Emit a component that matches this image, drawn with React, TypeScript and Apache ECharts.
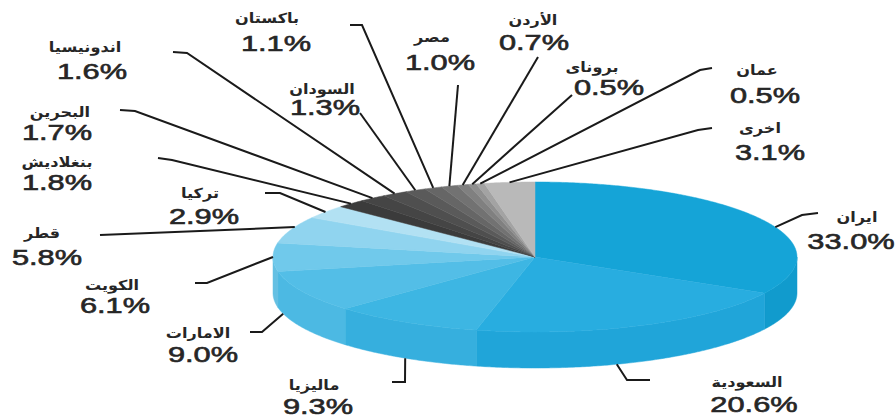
import React, { useEffect, useRef } from 'react';
import * as echarts from 'echarts';

// ---- data ----
const COUNTRIES = ['ايران', 'السعودية', 'ماليزيا', 'الامارات', 'الكويت', 'قطر', 'تركيا', 'بنغلاديش', 'البحرين', 'اندونيسيا', 'السودان', 'باكستان', 'مصر', 'الأردن', 'بروناى', 'عمان', 'اخرى'];
const SHARES = [33.0, 20.6, 9.3, 9.0, 6.1, 5.8, 2.9, 1.8, 1.7, 1.6, 1.3, 1.1, 1.0, 0.7, 0.5, 0.5, 3.1];

// ---- styles ----
const TOP_COLORS = ['#15a4d7', '#28ade0', '#3db6e3', '#53bee7', '#70c9eb', '#90d4ef', '#b2e1f3', '#3b3b3b', '#454545', '#4f4f4f', '#5a5a5a', '#666666', '#727272', '#808080', '#8f8f8f', '#a3a3a3', '#b9b9b9'];
const SIDE_COLORS = ['#119bcd', '#20a5d9', '#36afde', '#4cb9e3', '#64c0e3', '#84cde9', '#a5d9ee', '#333', '#333', '#333', '#333', '#333', '#333', '#333', '#333', '#333', '#333'];

// ---- layout (label name centre, pct centre, leader line start/elbow, attach fraction along slice) ----
const LABEL_NAME_POS = [[857, 217], [747, 382], [314, 385], [198, 333], [112, 285], [42, 233], [200, 193], [57, 162], [60, 112], [85, 47], [322, 89], [267, 18], [432, 37], [533, 20], [592, 67], [757, 70], [760, 128]];
const LABEL_PCT_POS = [[851, 242], [754, 405], [318, 407], [203, 355], [115, 306], [47, 258], [204, 217], [57, 183], [57, 133], [92, 72], [325, 108], [276, 44], [440, 63], [534, 43], [609, 88], [765, 96], [770, 153]];
const LEADER_START = [
  [[818, 213], [802, 215]],
  [[650, 380], [627, 380]],
  [[392, 382], [405, 382]],
  [[250, 332], [262, 332]],
  [[195, 283], [207, 283]],
  [[100, 235]],
  [[265, 193], [280, 193]],
  [[158, 158], [172, 160]],
  [[120, 110], [135, 111]],
  [[173, 52], [187, 53]],
  [[360, 113]],
  [[350, 25], [362, 25]],
  [[458, 85]],
  [[538, 57]],
  [[572, 95]],
  [[712, 68], [700, 70]],
  [[712, 128], [698, 130]],
];
const ATTACH = [0.56, 0.58, 0.5, 0.85, 0.51, 0.61, 0.5, 0.5, 0.5, 0.5, 0.5, 0.5, 0.5, 0.5, 0.5, 0.5, 0.5];

const CX = 535, CY = 257, RX = 262, RY = 75, H = 36;

export default function App() {
  const ref = useRef<HTMLDivElement>(null);
  useEffect(() => {
    if (!ref.current) return;
    const chart = echarts.init(ref.current, undefined, { renderer: 'svg' });
    const total = SHARES.reduce((a, b) => a + b, 0);
    const starts: number[] = [];
    let acc = 0;
    for (const v of SHARES) { starts.push(acc); acc += v; }
    const data = SHARES.map((v, i) => [v, starts[i], i]);
    const toAng = (v: number) => (v / total) * Math.PI * 2;
    const pt = (t: number, dy = 0) => [CX + RX * Math.sin(t), CY - RY * Math.cos(t) + dy];
    const arc = (a: number, b: number, dy: number) => {
      const n = Math.max(2, Math.ceil((b - a) / (Math.PI / 360)));
      const out: number[][] = [];
      for (let k = 0; k <= n; k++) out.push(pt(a + ((b - a) * k) / n, dy));
      return out;
    };
    const sideItem = (params: any, api: any) => {
      const i = api.value(2);
      const a0 = toAng(api.value(1));
      const a1 = a0 + toAng(api.value(0));
      const s = Math.max(a0, Math.PI / 2);
      const e = Math.min(a1, Math.PI * 1.5);
      if (s >= e) return { type: 'group', children: [] };
      const pts = arc(s, e, 0).concat(arc(s, e, H).reverse());
      return {
        type: 'polygon',
        shape: { points: pts },
        style: { fill: SIDE_COLORS[i], stroke: SIDE_COLORS[i], lineWidth: 0.5 },
      };
    };
    const topItem = (params: any, api: any) => {
      const i = api.value(2);
      const a0 = toAng(api.value(1));
      const a1 = a0 + toAng(api.value(0));
      const pts = [[CX, CY]].concat(arc(a0, a1, 0));
      return {
        type: 'polygon',
        shape: { points: pts },
        style: { fill: TOP_COLORS[i], stroke: TOP_COLORS[i], lineWidth: 0.5 },
      };
    };
    const labelItem = (params: any, api: any) => {
      const i = api.value(2);
      const v = api.value(0);
      const a0 = toAng(api.value(1));
      const a1 = a0 + toAng(v);
      const t = a0 + (a1 - a0) * ATTACH[i];
      const deg = (t * 180) / Math.PI;
      const onSide = deg > 100 && deg < 260;
      const end = pt(t, onSide ? H : 0);
      const linePts = LEADER_START[i].concat([end]);
      const txtStyle = (text: string, font: string, sw: number) => ({
        text,
        font,
        fill: '#262626',
        stroke: '#262626',
        lineWidth: sw,
        align: 'center',
        verticalAlign: 'middle',
        textAlign: 'center',
        textVerticalAlign: 'middle',
      });
      return {
        type: 'group',
        children: [
          {
            type: 'polyline',
            shape: { points: linePts },
            style: { stroke: '#1a1a1a', lineWidth: 2, fill: null },
          },
          {
            type: 'text',
            x: LABEL_NAME_POS[i][0],
            y: LABEL_NAME_POS[i][1],
            scaleX: 1.15,
            style: txtStyle(COUNTRIES[i], 'bold 14px "DejaVu Sans"', 0),
          },
          {
            type: 'text',
            x: LABEL_PCT_POS[i][0],
            y: LABEL_PCT_POS[i][1],
            scaleX: 1.4,
            style: txtStyle(v.toFixed(1) + '%', '22px "Liberation Sans", Arial', 0.6),
          },
        ],
      };
    };
    chart.setOption({
      animation: false,
      backgroundColor: '#ffffff',
      series: [
        { type: 'custom', coordinateSystem: 'none', z: 1, renderItem: sideItem, data, silent: true },
        { type: 'custom', coordinateSystem: 'none', z: 2, renderItem: topItem, data, silent: true },
        { type: 'custom', coordinateSystem: 'none', z: 3, renderItem: labelItem, data, silent: true },
      ],
    });
    return () => chart.dispose();
  }, []);
  return (
    <div
      ref={ref}
      style={{ position: 'fixed', left: 0, top: 0, width: 896, height: 418 }}
    />
  );
}
